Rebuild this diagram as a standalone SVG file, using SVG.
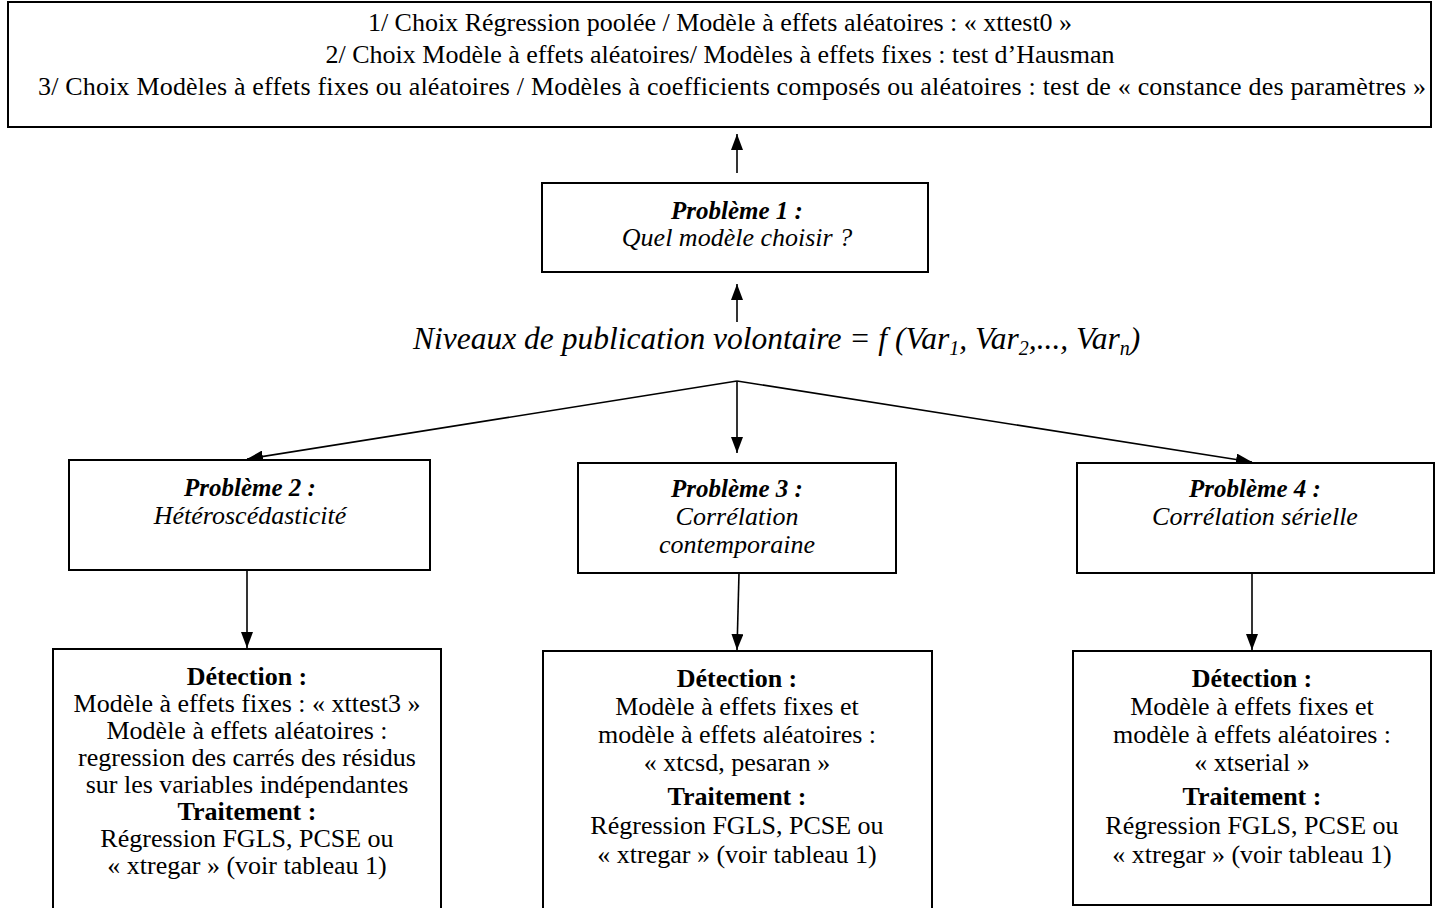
<svg xmlns="http://www.w3.org/2000/svg" width="1437" height="908" viewBox="0 0 1437 908" font-family="'Liberation Serif', 'Times New Roman', Times, 'DejaVu Serif', serif">
<style>
.box{fill:#fff;stroke:#000;stroke-width:2}
.con{stroke:#000;stroke-width:1.6;fill:none;marker-end:url(#ah)}
text{font-family:'Liberation Serif','Times New Roman',Times,'DejaVu Serif',serif;fill:#000;text-anchor:middle}
.top{font-size:26px}
.pb{font-size:25px;font-style:italic;font-weight:bold}
.pi{font-size:26px;font-style:italic}
.f{font-size:31.5px;font-style:italic;text-anchor:start}
.b{font-size:26px}
.bb{font-size:26px;font-weight:bold}
</style>
<defs>
<marker id="ah" viewBox="0 0 16 12" refX="16" refY="6" markerWidth="16" markerHeight="12" markerUnits="userSpaceOnUse" orient="auto">
<path d="M0,0 L16,6 L0,12 z" fill="#000"/>
</marker>
</defs>
<rect width="1437" height="908" fill="#fff"/>
<g id="connectors">
<line class="con" x1="737" y1="173" x2="737" y2="134"/>
<line class="con" x1="737" y1="322" x2="737" y2="284"/>
<line class="con" x1="737" y1="381" x2="247" y2="459"/>
<line class="con" x1="737" y1="381" x2="737" y2="453"/>
<line class="con" x1="737" y1="381" x2="1252" y2="462"/>
<line class="con" x1="247" y1="570" x2="247" y2="648"/>
<line class="con" x1="739" y1="573" x2="737" y2="650"/>
<line class="con" x1="1252" y1="573" x2="1252" y2="650"/>
</g>
<g id="top">
<rect class="box" x="8" y="2" width="1423" height="125"/>
<text class="top" x="720" y="31">1/ Choix Régression poolée / Modèle à effets aléatoires : « xttest0 »</text>
<text class="top" x="720" y="63">2/ Choix Modèle à effets aléatoires/ Modèles à effets fixes : test d’Hausman</text>
<text class="top" x="732" y="95" textLength="1388" lengthAdjust="spacing">3/ Choix Modèles à effets fixes ou aléatoires / Modèles à coefficients composés ou aléatoires : test de « constance des paramètres »</text>
</g>
<g id="p1">
<rect class="box" x="542" y="183" width="386" height="89"/>
<text class="pb" x="737" y="219">Problème 1 :</text>
<text class="pi" x="737" y="246">Quel modèle choisir ?</text>
</g>
<g id="formula">
<text class="f" x="413" y="349">Niveaux de publication volontaire = f (Var<tspan font-size="20" dy="6">1</tspan><tspan dy="-6">, Var</tspan><tspan font-size="20" dy="6">2</tspan><tspan dy="-6">,..., Var</tspan><tspan font-size="20" dy="6">n</tspan><tspan dy="-6">)</tspan></text>
</g>
<g id="p2">
<rect class="box" x="69" y="460" width="361" height="110"/>
<text class="pb" x="250" y="496">Problème 2 :</text>
<text class="pi" x="250" y="524">Hétéroscédasticité</text>
</g>
<g id="p3">
<rect class="box" x="578" y="463" width="318" height="110"/>
<text class="pb" x="737" y="497">Problème 3 :</text>
<text class="pi" x="737" y="525">Corrélation</text>
<text class="pi" x="737" y="553">contemporaine</text>
</g>
<g id="p4">
<rect class="box" x="1077" y="463" width="357" height="110"/>
<text class="pb" x="1255" y="497">Problème 4 :</text>
<text class="pi" x="1255" y="525">Corrélation sérielle</text>
</g>
<g id="b2">
<rect class="box" x="53" y="649" width="388" height="270"/>
<text class="bb" x="247" y="685">Détection :</text>
<text class="b" x="247" y="712">Modèle à effets fixes : « xttest3 »</text>
<text class="b" x="247" y="739">Modèle à effets aléatoires :</text>
<text class="b" x="247" y="766">regression des carrés des résidus</text>
<text class="b" x="247" y="793">sur les variables indépendantes</text>
<text class="bb" x="247" y="820">Traitement :</text>
<text class="b" x="247" y="847">Régression FGLS, PCSE ou</text>
<text class="b" x="247" y="874">« xtregar » (voir tableau 1)</text>
</g>
<g id="b3">
<rect class="box" x="543" y="651" width="389" height="270"/>
<text class="bb" x="737" y="687">Détection :</text>
<text class="b" x="737" y="715">Modèle à effets fixes et</text>
<text class="b" x="737" y="743">modèle à effets aléatoires :</text>
<text class="b" x="737" y="771">« xtcsd, pesaran »</text>
<text class="bb" x="737" y="805">Traitement :</text>
<text class="b" x="737" y="834">Régression FGLS, PCSE ou</text>
<text class="b" x="737" y="863">« xtregar » (voir tableau 1)</text>
</g>
<g id="b4">
<rect class="box" x="1073" y="651" width="358" height="254"/>
<text class="bb" x="1252" y="687">Détection :</text>
<text class="b" x="1252" y="715">Modèle à effets fixes et</text>
<text class="b" x="1252" y="743">modèle à effets aléatoires :</text>
<text class="b" x="1252" y="771">« xtserial »</text>
<text class="bb" x="1252" y="805">Traitement :</text>
<text class="b" x="1252" y="834">Régression FGLS, PCSE ou</text>
<text class="b" x="1252" y="863">« xtregar » (voir tableau 1)</text>
</g>
</svg>
